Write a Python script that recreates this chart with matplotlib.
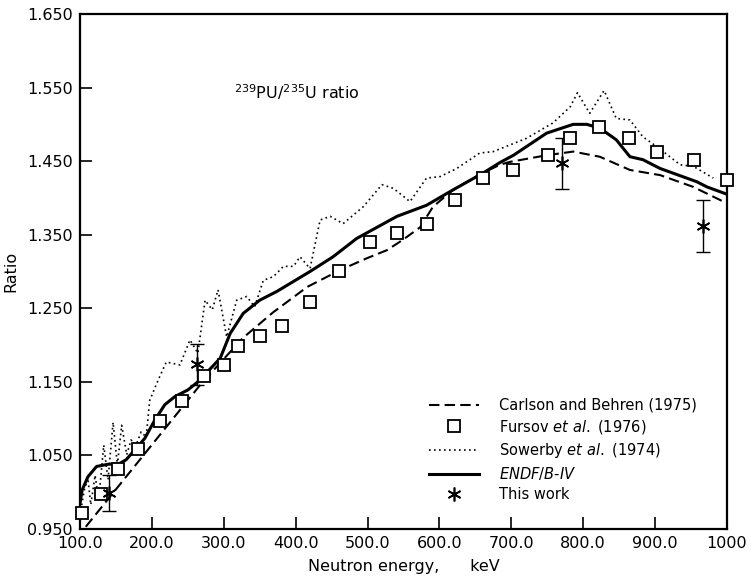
import numpy as np
import matplotlib
matplotlib.use("Agg")
import matplotlib.pyplot as plt

# Carlson and Behren (1975), dashed
carlson_e = [108, 269, 327, 368, 416, 462, 499, 527, 549, 573, 591, 619, 660, 684, 698, 749, 786, 823, 865, 907, 953, 995]
carlson_r = [0.953, 1.148, 1.210, 1.244, 1.279, 1.302, 1.318, 1.329, 1.343, 1.360, 1.388, 1.411, 1.434, 1.445, 1.449,
             1.458, 1.463, 1.456, 1.438, 1.431, 1.415, 1.395]

# Fursov et al. (1976), squares
fursov_e = [103, 129, 153, 181, 211, 242, 272, 300, 320, 351, 381, 420, 460, 503, 541, 582, 622, 661, 703, 751, 782,
            822, 863, 903, 954, 1000]
fursov_r = [0.972, 0.998, 1.032, 1.059, 1.097, 1.124, 1.158, 1.173, 1.199, 1.212, 1.226, 1.259, 1.301, 1.340, 1.353,
            1.365, 1.397, 1.427, 1.438, 1.458, 1.482, 1.497, 1.482, 1.463, 1.451, 1.425]

# Sowerby et al. (1974), dotted
sowerby_e = [100, 106, 111, 115, 121, 126, 133, 139, 146, 152, 158, 165, 171, 178, 185, 192, 197, 209, 220, 239, 253,
             264, 274, 284, 292, 304, 318, 332, 343, 355, 369, 383, 397, 406, 420, 434, 448, 466, 494, 520, 536, 559,
             582, 601, 624, 656, 675, 721, 758, 782, 792, 809, 829, 846, 865, 883, 902, 935, 953, 981]
sowerby_r = [0.969, 1.003, 1.019, 0.983, 1.023, 0.989, 1.064, 1.017, 1.095, 1.037, 1.091, 1.051, 1.071, 1.064, 1.082,
             1.075, 1.125, 1.153, 1.177, 1.173, 1.207, 1.189, 1.261, 1.248, 1.275, 1.211, 1.261, 1.266, 1.252, 1.288,
             1.293, 1.307, 1.307, 1.320, 1.304, 1.370, 1.375, 1.365, 1.388, 1.418, 1.413, 1.395, 1.427, 1.429, 1.440,
             1.461, 1.463, 1.481, 1.502, 1.524, 1.543, 1.515, 1.546, 1.508, 1.506, 1.483, 1.470, 1.445, 1.443, 1.427]

# ENDF/B-IV, solid
endf_e = [100, 103, 111, 123, 139, 155, 164, 174, 190, 204, 218, 232, 250, 264, 295, 309, 327, 350, 374, 420, 452,
          485, 541, 582, 619, 661, 684, 703, 749, 786, 805, 823, 846, 865, 883, 907, 958, 972, 1000]
endf_r = [0.985, 1.003, 1.021, 1.035, 1.038, 1.039, 1.044, 1.055, 1.073, 1.098, 1.119, 1.130, 1.139, 1.150, 1.182,
          1.216, 1.243, 1.261, 1.273, 1.300, 1.320, 1.345, 1.375, 1.390, 1.411, 1.434, 1.448, 1.458, 1.488, 1.500,
          1.500, 1.495, 1.479, 1.456, 1.452, 1.440, 1.422, 1.415, 1.405]

# This work, with error bars
this_e = [141, 263, 771, 966]
this_r = [0.999, 1.174, 1.447, 1.362]
this_err = [0.025, 0.028, 0.035, 0.035]

xticks = [100, 200, 300, 400, 500, 600, 700, 800, 900, 1000]
xticklabels = ["100.0", "200.0", "300.0", "400.0", "500.0", "600.0", "700.0", "800.0", "900.0", "1000"]
yticks = [0.95, 1.05, 1.15, 1.25, 1.35, 1.45, 1.55, 1.65]

fig = plt.figure(figsize=(7.56, 5.79), dpi=100)
ax = fig.add_axes([80 / 756, 1 - 529 / 579, 647 / 756, 515 / 579])

ax.plot(carlson_e, carlson_r, color="black", lw=1.5, linestyle=(0, (5, 2.5)),
        label="Carlson and Behren (1975)")
ax.plot(fursov_e, fursov_r, linestyle="none", marker="s", markersize=9, markerfacecolor="white",
        markeredgecolor="black", markeredgewidth=1.3, clip_on=False, zorder=4,
        label=r"Fursov $\mathit{et\ al.}$ (1976)")
ax.plot(sowerby_e, sowerby_r, color="black", lw=1.2, linestyle=(0, (1, 2)),
        label=r"Sowerby $\mathit{et\ al.}$ (1974)")
ax.plot(endf_e, endf_r, color="black", lw=2.2, label=r"$\mathit{ENDF/B}$-$\mathit{IV}$")
ax.errorbar(this_e, this_r, yerr=this_err, fmt="none", ecolor="black", elinewidth=1.0, capsize=5, capthick=1.0)
ax.plot(this_e, this_r, linestyle="none", marker=(6, 2, 0), markersize=10, color="black",
        markeredgewidth=1.2, zorder=5, label="This work")

ax.text(402, 1.544, r"$^{239}$PU/$^{235}$U ratio", fontsize=11.5, ha="center", va="center")

ax.set_xlim(100, 1000)
ax.set_ylim(0.95, 1.65)
ax.set_xticks(xticks)
ax.set_xticklabels(xticklabels)
ax.set_yticks(yticks)
ax.set_yticklabels(["%.3f" % v for v in yticks])
ax.tick_params(direction="in", length=8.5, width=1.2, labelsize=11.5, pad=5)
for s in ax.spines.values():
    s.set_linewidth(1.6)

ax.set_xlabel("Neutron energy,      keV", fontsize=11.5, labelpad=6)
ax.set_ylabel("Ratio", fontsize=11.5, labelpad=6)

ax.legend(loc="upper left", bbox_to_anchor=(0.54, 0.255), frameon=False, fontsize=10.5,
          handlelength=3.4, handletextpad=1.4, labelspacing=0.35, borderpad=0, borderaxespad=0)

fig.savefig("out.png", dpi=100)
